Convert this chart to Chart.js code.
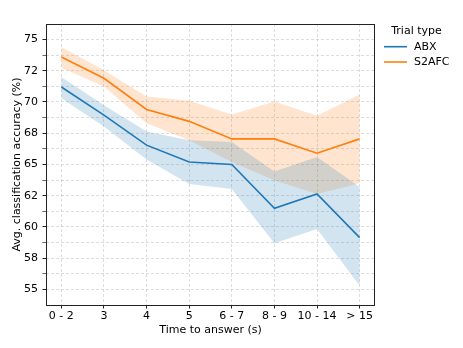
<!DOCTYPE html>
<html lang="en">
<head>
    <meta charset="UTF-8">
    <title>Accuracy vs time to answer</title>
    <script src="https://cdn.jsdelivr.net/npm/chart.js"></script>
    <style>
        body {
            margin: 0;
            background: #fff;
        }
        #wrap {
            width: 463px;
            height: 348px;
        }
    </style>
</head>
<body>
    <div id="wrap"><canvas id="chart" width="463" height="348"></canvas></div>

    <script>
        // Data
        const categories = ['0 - 2', '3', '4', '5', '6 - 7', '8 - 9', '10 - 14', '> 15'];

        const abxMean  = [71.2, 68.95, 66.55, 65.2, 65.0, 61.5, 62.65, 59.15];
        const abxUpper = [72.0, 69.75, 67.65, 66.95, 66.8, 64.45, 65.6, 63.2];
        const abxLower = [70.3, 68.05, 65.4, 63.45, 63.05, 58.7, 59.85, 55.3];

        const s2afcMean  = [73.6, 71.9, 69.4, 68.45, 67.05, 67.05, 65.9, 67.05];
        const s2afcUpper = [74.4, 72.55, 70.45, 70.1, 69.0, 70.05, 68.9, 70.6];
        const s2afcLower = [72.75, 71.25, 68.3, 66.95, 65.2, 63.75, 62.65, 63.5];

        const yTickValues = [55, 57.5, 60, 62.5, 65, 67.5, 70, 72.5, 75];
        const yTickLabels = ['55', '58', '60', '62', '65', '68', '70', '72', '75'];

        const legendTitle = 'Trial type';
        const seriesNames = ['ABX', 'S2AFC'];

        const BLUE = '#1f77b4';
        const ORANGE = '#ff7f0e';
        const FONT = 'DejaVu Sans';

        const pts = arr => arr.map((v, i) => ({ x: i, y: v }));

        // minor ticks sit halfway between the major ones
        const yMinor = yTickValues.slice(0, -1).map((v, i) => (v + yTickValues[i + 1]) / 2)
            .concat([yTickValues[0] - 1.25, yTickValues[yTickValues.length - 1] + 1.25])
            .filter(v => v > 53.76 && v < 76.24);
        const isMajor = v => yTickValues.some(m => Math.abs(m - v) < 1e-6);

        function band(upper, lower, color) {
            return [
                { data: pts(upper), borderWidth: 0, pointRadius: 0, backgroundColor: color, fill: '+1', order: 2 },
                { data: pts(lower), borderWidth: 0, pointRadius: 0, backgroundColor: color, fill: false, order: 2 }
            ];
        }

        const framePlugin = {
            id: 'frame',
            afterDraw(chart) {
                const { ctx, chartArea: a } = chart;
                ctx.save();
                ctx.strokeStyle = '#222';
                ctx.lineWidth = 1;
                ctx.strokeRect(Math.round(a.left) + 0.5, Math.round(a.top) + 0.5,
                    Math.round(a.right - a.left) - 1, Math.round(a.bottom - a.top));

                // legend (no box, like matplotlib frameon=False)
                ctx.fillStyle = '#000';
                ctx.font = '11px "' + FONT + '"';
                ctx.textBaseline = 'middle';
                ctx.textAlign = 'center';
                ctx.fillText(legendTitle, 416.5, 31);
                ctx.textAlign = 'left';
                [BLUE, ORANGE].forEach((c, i) => {
                    const y = 46.7 + i * 15.3;
                    ctx.strokeStyle = c;
                    ctx.lineWidth = 1.6;
                    ctx.beginPath();
                    ctx.moveTo(384, y);
                    ctx.lineTo(407, y);
                    ctx.stroke();
                    ctx.fillText(seriesNames[i], 414, y);
                });
                ctx.restore();
            }
        };

        const gridColor = 'rgba(176,176,176,0.55)';

        new Chart(document.getElementById('chart'), {
            type: 'line',
            data: {
                datasets: [
                    { data: pts(abxMean), borderColor: BLUE, borderWidth: 1.6, pointRadius: 0, fill: false, tension: 0, order: 0 },
                    { data: pts(s2afcMean), borderColor: ORANGE, borderWidth: 1.6, pointRadius: 0, fill: false, tension: 0, order: 0 },
                    ...band(abxUpper, abxLower, 'rgba(31,119,180,0.2)'),
                    ...band(s2afcUpper, s2afcLower, 'rgba(255,127,14,0.2)')
                ]
            },
            options: {
                responsive: false,
                animation: false,
                events: [],
                layout: { padding: { top: 24, right: 88, left: 0, bottom: 0 } },
                plugins: {
                    legend: { display: false },
                    tooltip: { enabled: false }
                },
                scales: {
                    x: {
                        type: 'linear',
                        min: -0.36,
                        max: 7.36,
                        afterBuildTicks: axis => { axis.ticks = categories.map((c, i) => ({ value: i })); },
                        afterFit: s => { s.height = 43; },
                        ticks: {
                            callback: v => categories[v],
                            font: { family: FONT, size: 11 },
                            color: '#000',
                            padding: 1.5,
                            maxRotation: 0,
                            autoSkip: false
                        },
                        grid: { color: gridColor, lineWidth: 0.8, tickColor: '#222', tickLength: 3.5, tickWidth: 1 },
                        border: { display: false, dash: [3, 2] },
                        title: {
                            display: true,
                            text: 'Time to answer (s)',
                            font: { family: FONT, size: 11 },
                            color: '#000',
                            padding: { top: 0, bottom: 11.5 }
                        }
                    },
                    y: {
                        type: 'linear',
                        min: 53.76,
                        max: 76.24,
                        afterBuildTicks: axis => {
                            axis.ticks = yTickValues.concat(yMinor).sort((a, b) => a - b).map(v => ({ value: v }));
                        },
                        afterFit: s => { s.width = 46; },
                        ticks: {
                            callback: v => {
                                const k = yTickValues.findIndex(m => Math.abs(m - v) < 1e-6);
                                return k >= 0 ? yTickLabels[k] : '';
                            },
                            font: { family: FONT, size: 11 },
                            color: '#000',
                            padding: 4.5,
                            autoSkip: false
                        },
                        grid: {
                            color: gridColor,
                            lineWidth: 0.8,
                            tickColor: '#222',
                            tickLength: 3.5,
                            tickWidth: ctx => (ctx.tick && isMajor(ctx.tick.value)) ? 1 : 0.7
                        },
                        border: { display: false, dash: [3, 2] },
                        title: {
                            display: true,
                            text: 'Avg. classification accuracy (%)',
                            font: { family: FONT, size: 11 },
                            color: '#000',
                            padding: { top: 11, bottom: 0 }
                        }
                    }
                }
            },
            plugins: [framePlugin]
        });
    </script>
</body>
</html>
